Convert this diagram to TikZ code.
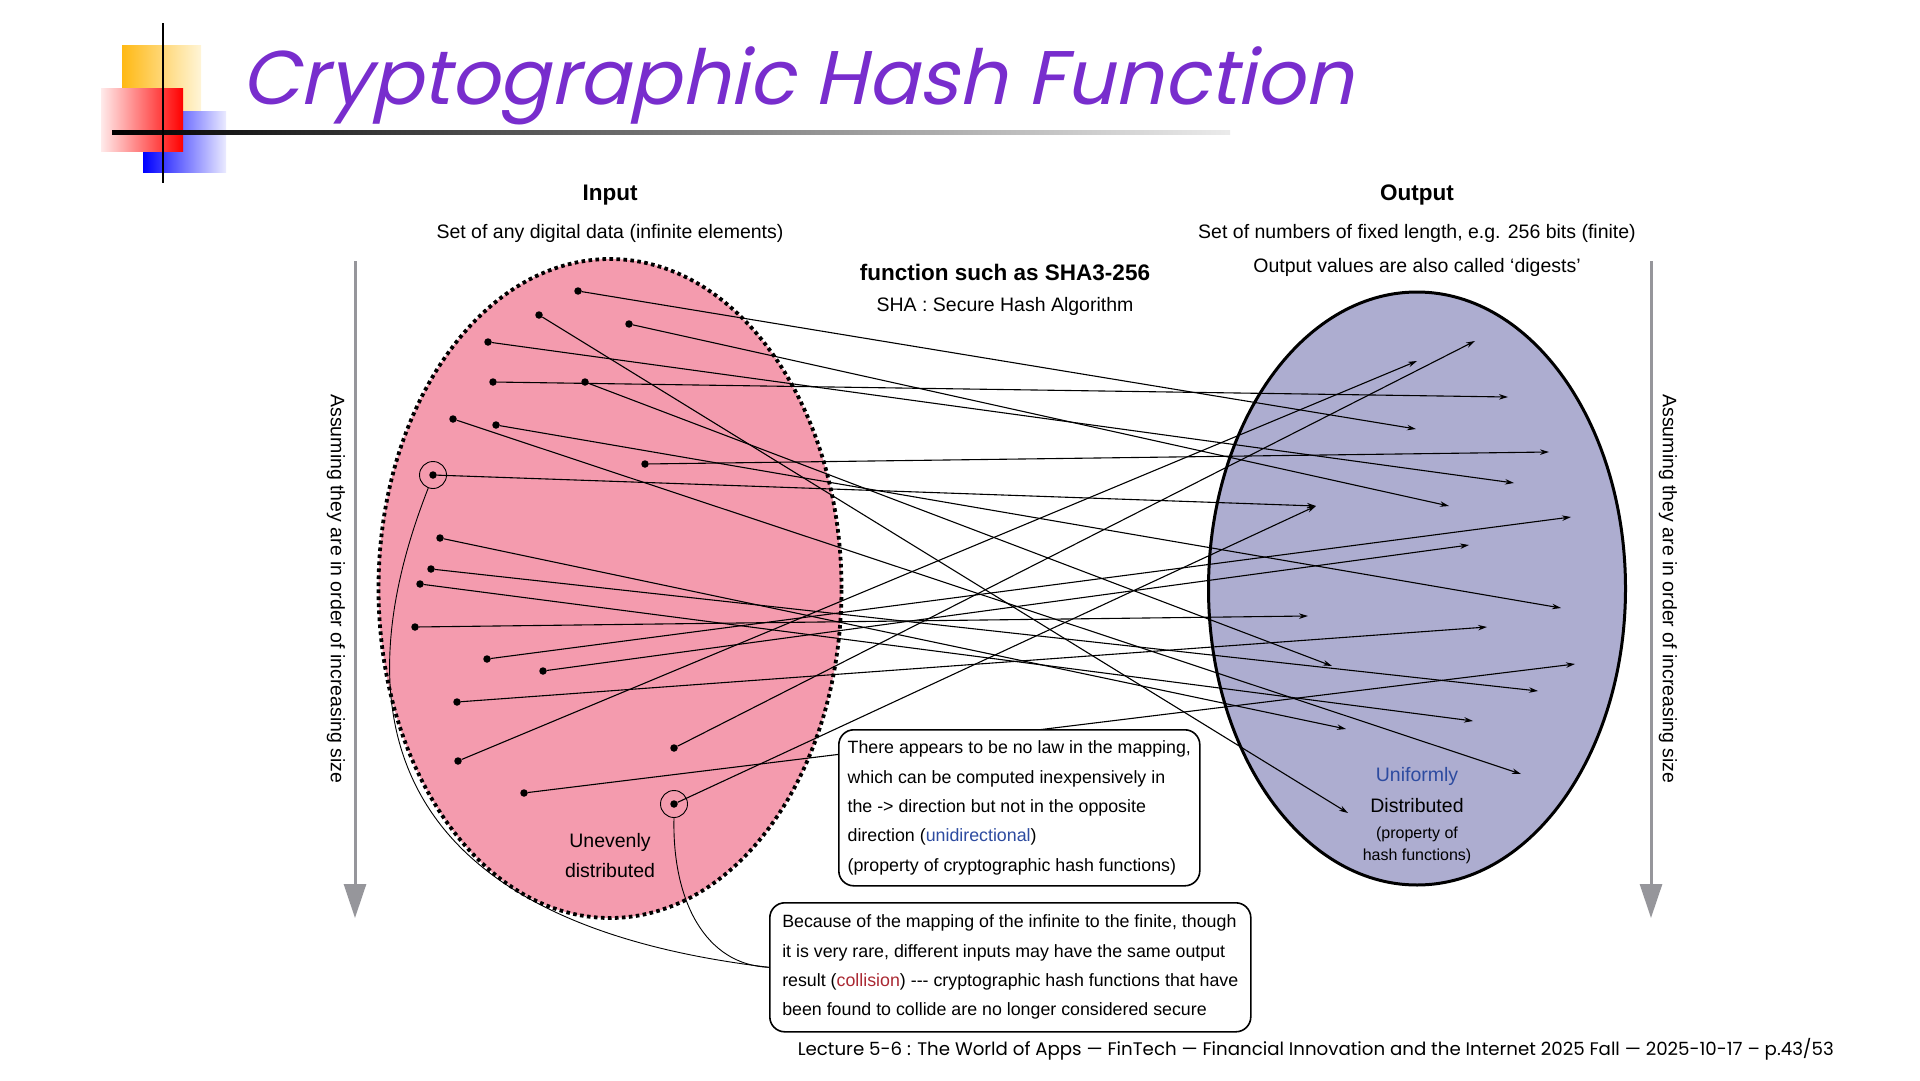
\documentclass[tikz,border=0pt]{standalone}
\usepackage{fontspec}
\setmainfont{Liberation Sans}
\newfontfamily\titlefont{Poppins}[FakeSlant=0.22]
\newfontfamily\footfont{Poppins}
\usetikzlibrary{arrows.meta,shapes.geometric}
\definecolor{pinkfill}{RGB}{244,155,174}
\definecolor{lavfill}{RGB}{173,173,208}
\definecolor{titlepurple}{RGB}{120,45,205}
\definecolor{uniblue}{RGB}{45,75,160}
\definecolor{colred}{RGB}{170,40,50}
\definecolor{arrgray}{RGB}{150,150,155}
\begin{document}
\begin{tikzpicture}[x=1pt,y=-1pt,
  dot/.style={circle,fill=black,inner sep=0pt,minimum size=7.5pt},
  arr/.style={line width=1.1pt,-{Stealth[length=9pt,width=5.5pt]}},
  ring/.style={circle,draw,line width=0.9pt,minimum size=27pt,inner sep=0pt},
  note/.style={draw,line width=1.6pt,rounded corners=15pt,fill=white,align=left,inner sep=0pt,font=\fontsize{17.8}{29.3}\selectfont},
  lbl/.style={font=\fontsize{19.5}{23}\selectfont,inner sep=0pt},
  hdr/.style={font=\fontsize{22.5}{27}\selectfont\bfseries,inner sep=0pt},
  side/.style={font=\fontsize{19.5}{23}\selectfont,rotate=-90,inner sep=0pt},
  grayarrow/.style={arrgray,line width=3pt,-{Triangle[length=34pt,width=22pt]}},
  curve/.style={line width=0.9pt}
]
\useasboundingbox (0,0) rectangle (1920,1081);
% title decoration
\shade[left color={rgb,255:red,255;green,185;blue,20}, right color={rgb,255:red,255;green,245;blue,215}] (122,46) rectangle (201,116);
\shade[left color=blue, right color=blue!8] (143,111) rectangle (226,172);
\shade[left color=red!8, right color=red] (101,89) rectangle (183,151);
\shade[left color=black, right color=black!8] (112,130) rectangle (1230,134.5);
\fill[black] (161.8,23) rectangle (164.2,183);
\node[anchor=base west,text=titlepurple,font=\titlefont\fontsize{76}{86}\selectfont,inner sep=0pt] (title) at (241,104) {Cryptographic Hash Function};

% headers
\node[hdr] (inhdr) at (610,195) {Input};
\node[lbl] (insub) at (610,233) {Set of any digital data (infinite elements)};
\node[hdr] (outhdr) at (1417,195) {Output};
\node[lbl] (outsub) at (1417,233) {Set of numbers of fixed length, e.g. 256 bits (finite)};
\node[lbl] (outsub2) at (1417,267) {Output values are also called ‘digests’};
\node[hdr] (fnhdr) at (1005,272) {function such as SHA3-256};
\node[lbl] (fnsub) at (1005,306) {SHA : Secure Hash Algorithm};

% side arrows
\coordinate (la0) at (355,261); \coordinate (la1) at (355,918);
\coordinate (ra0) at (1651,261); \coordinate (ra1) at (1651,918);
\draw[grayarrow] (la0) -- (la1);
\draw[grayarrow] (ra0) -- (ra1);
\node[side] (lside) at (336,589) {Assuming they are in order of increasing size};
\node[side] (rside) at (1668,589) {Assuming they are in order of increasing size};

% sets
\node[ellipse,fill=pinkfill,draw,line width=3.8pt,dash pattern=on 3.6pt off 3.4pt,minimum width=463pt,minimum height=659pt,inner sep=0pt] (inset) at (610,588.5) {};
\node[ellipse,fill=lavfill,draw,line width=3pt,minimum width=417pt,minimum height=593pt,inner sep=0pt] (outset) at (1417,588.5) {};

\node[align=center,font=\fontsize{19.5}{30}\selectfont,inner sep=0pt] (uneven) at (610,856) {Unevenly\\distributed};
\node[lbl,text=uniblue] (unif) at (1417,776) {Uniformly};
\node[lbl] (distr) at (1417,806) {Distributed};
\node[align=center,font=\fontsize{16}{22}\selectfont,inner sep=0pt] (prop) at (1417,845) {(property of\\hash functions)};

% elements
\foreach \i/\x/\y in {1/578/291,2/539/315,3/629/324,4/488/342,5/493/382,6/585/382,7/453/419,8/496/425,9/645/464,10/433/475,11/440/538,12/431/569,13/420/584,14/415/627,15/487/659,16/543/671,17/457/702,18/674/748,19/458/761,20/524/793,21/674/804}
  \node[dot] (d\i) at (\x,\y) {};
\foreach \i/\x/\y in {1/1416/429,2/1348/813,3/1449/506,4/1514/483,5/1508/397,6/1332/666,7/1521/774,8/1561/608,9/1549/452,10/1316/506,11/1346/729,12/1538/691,13/1473/721,14/1308/616,15/1571/517,16/1469/545,17/1487/627,18/1475/341,19/1417/361,20/1575/664}
  \coordinate (t\i) at (\x,\y);
\foreach \i/\j in {1/1,2/2,3/3,4/4,5/5,6/6,7/7,8/8,9/9,10/10,11/11,12/12,13/13,14/14,15/15,16/16,17/17,18/18,19/19,20/20,21/10}
  \draw[arr] (d\i) -- (t\j);
\node[ring] (c10) at (d10) {};
\node[ring] (c21) at (d21) {};

% notes
\node[note,anchor=north west,minimum width=361pt,minimum height=156pt] (box1) at (838,729) {There appears to be no law in the mapping,\\which can be computed inexpensively in\\the -> direction but not in the opposite\\direction (\textcolor{uniblue}{unidirectional})\\(property of cryptographic hash functions)};
\node[note,anchor=north west,minimum width=481pt,minimum height=129pt] (box2) at (769,902) {Because of the mapping of the infinite to the finite, though\\it is very rare, different inputs may have the same output\\result (\textcolor{colred}{collision}) \mbox{-}\mbox{-}\mbox{-} cryptographic hash functions that have\\been found to collide are no longer considered secure};
\draw[curve] (c10.250) .. controls (345,700) and (370,920) .. (box2.west);
\draw[curve] (c21.270) .. controls (672,900) and (705,965) .. (box2.west);

% footer
\node[anchor=base east,font=\footfont\fontsize{18.2}{21}\selectfont,inner sep=0pt] (foot) at (1834,1055) {Lecture 5-6 : The World of Apps — FinTech — Financial Innovation and the Internet 2025 Fall — 2025-10-17 – p.43/53};
\end{tikzpicture}
\end{document}
